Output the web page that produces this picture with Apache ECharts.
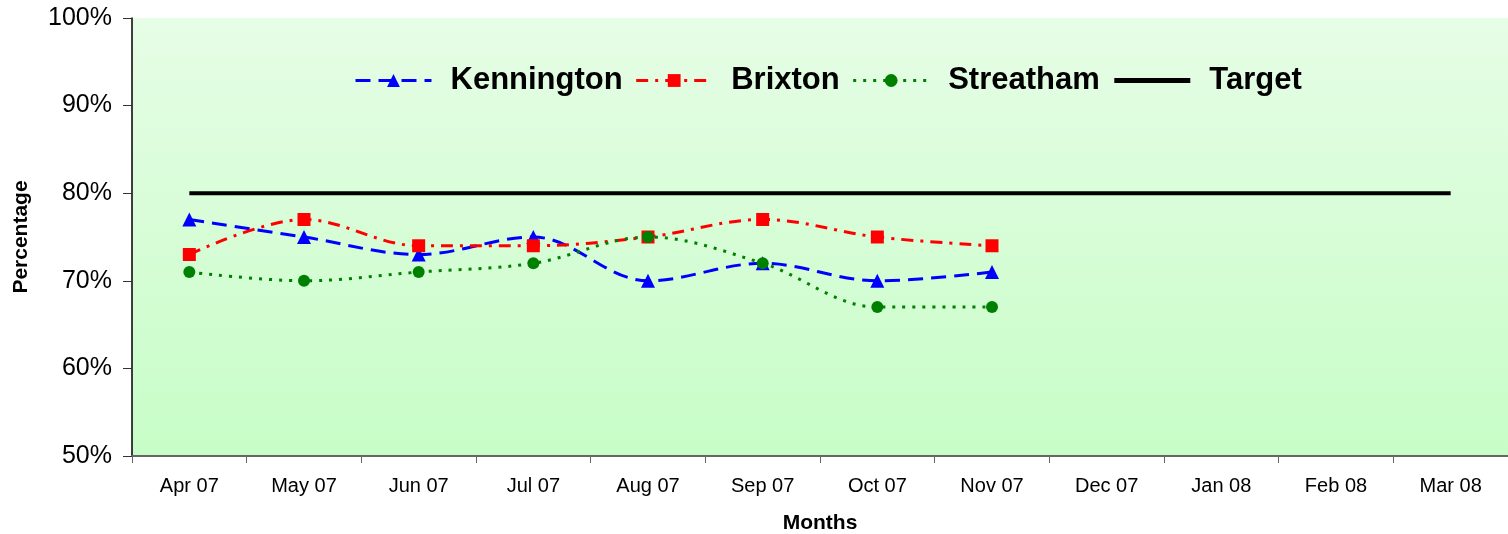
<!DOCTYPE html>
<html><head><meta charset="utf-8">
<script src="https://cdn.jsdelivr.net/npm/echarts@6/dist/echarts.min.js"></script>
<style>html,body{margin:0;padding:0;background:#fff}#c{width:1508px;height:534px}</style>
</head><body><div id="c"></div>
<script>
const months = ['Apr 07','May 07','Jun 07','Jul 07','Aug 07','Sep 07','Oct 07','Nov 07','Dec 07','Jan 08','Feb 08','Mar 08'];
const kennington = [77,75,73,75,70,72,70,71];
const brixton = [73,77,74,74,75,77,75,74];
const streatham = [71,70,71,72,75,72,67,67];
const target = [80,80,80,80,80,80,80,80,80,80,80,80];
const yTicks = [50,60,70,80,90,100];

const font = 'Liberation Sans, Arial, sans-serif';
const chart = echarts.init(document.getElementById('c'));
chart.setOption({
  animation:false,
  grid:{left:132,right:0,top:18,bottom:78,containLabel:false,outerBoundsMode:'none',
    show:true,borderWidth:0,
    backgroundColor:new echarts.graphic.LinearGradient(0,0,0,1,[{offset:0,color:'#e6fde6'},{offset:1,color:'#c7fdc7'}])},
  legend:{top:60,left:349,itemWidth:76,itemHeight:16,itemGap:12,
    textStyle:{fontFamily:font,fontWeight:'bold',fontSize:31,color:'#000',padding:[0,0,0,14]},
    data:[
      {name:'Kennington',lineStyle:{width:3}},
      {name:'Brixton',lineStyle:{width:3}},
      {name:'Streatham',lineStyle:{width:3}},
      {name:'Target',itemStyle:{opacity:0},lineStyle:{width:5}}]},
  xAxis:{type:'category',data:months,boundaryGap:true,
    name:'Months',nameLocation:'middle',nameGap:57,
    nameTextStyle:{fontFamily:font,fontWeight:'bold',fontSize:21,color:'#000'},
    axisLine:{lineStyle:{color:'#666',width:2}},
    axisTick:{show:true,length:7,lineStyle:{color:'#666',width:1}},
    axisLabel:{fontFamily:font,fontSize:20,color:'#000',margin:20},
    splitLine:{show:false}},
  yAxis:{type:'value',min:50,max:100,interval:10,
    name:'Percentage',nameLocation:'middle',nameGap:100,nameRotate:90,
    nameTextStyle:{fontFamily:font,fontWeight:'bold',fontSize:21,color:'#000'},
    axisLine:{show:true,lineStyle:{color:'#000',width:1.5}},
    axisTick:{show:true,length:9,lineStyle:{color:'#333'}},
    axisLabel:{fontFamily:font,fontSize:25,color:'#000',margin:20,formatter:v=>yTicks.includes(v)?v+'%':''},
    splitLine:{show:false}},
  series:[
    {name:'Kennington',type:'line',data:kennington,smooth:0.35,symbol:'triangle',symbolSize:14,
      lineStyle:{color:'#0000ff',width:3,type:[15,8]},itemStyle:{color:'#0000ff'},z:3},
    {name:'Brixton',type:'line',data:brixton,smooth:0.35,symbol:'rect',symbolSize:13,
      lineStyle:{color:'#ff0000',width:3,type:[12,7,3,7]},itemStyle:{color:'#ff0000'},z:3},
    {name:'Streatham',type:'line',data:streatham,smooth:0.35,symbol:'circle',symbolSize:12,
      lineStyle:{color:'#008000',width:3,type:[3,7]},itemStyle:{color:'#008000'},z:3},
    {name:'Target',type:'line',data:target,symbol:'circle',showSymbol:false,
      lineStyle:{color:'#000',width:4},itemStyle:{color:'#000'},z:2}
  ]
});
</script></body></html>
